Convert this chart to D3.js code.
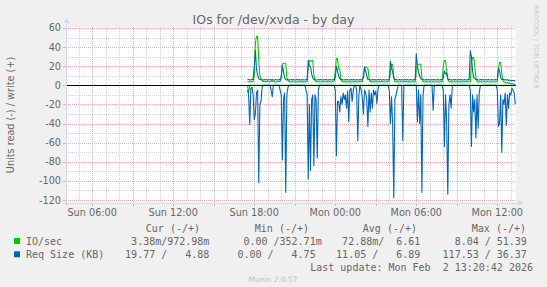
<!DOCTYPE html>
<html><head><meta charset="utf-8">
<script src="https://cdn.jsdelivr.net/npm/d3@7"></script>
<style>body{margin:0;background:#f0f0f0}svg{display:block}</style>
</head><body>
<script>
// ---- data (5-minute samples starting Sun 17:30, one row per hour) ----
const firstSample = new Date(2026, 1, 1, 17, 30);
const sampleMinutes = 5;

const ioWrite = [
  4,4,3.5,3.5,4,4,10,44,51.39,51,26,10,
  7,5,4,4,3.5,4,4,4,3.5,4,5,4,
  4,3.5,3.5,4,4,4,10,22,23,23,23,8,
  5,4,3.5,3.5,4,3.5,3.5,4,3.5,3.5,4,4,
  3.5,4,3.5,3.5,4,4,20,26,26,25,26,10,
  5,4,3.5,4,3.5,3.5,3.5,4,4,3.5,3.5,4,
  3.5,4,3.5,3.5,4,4,15,28,28,17,17,6,
  4,3.5,4,3.5,4,3.5,3.5,4,3.5,3.5,4,3.5,
  4,3.5,3.5,4,3.5,4,4,10,19,19,19,18,
  8,4,3.5,4,3.5,3.5,4,3.5,3.5,4,3.5,4,
  3.5,4,3.5,3.5,4,3.5,4,15,22,22,8,4,
  3.5,4,3.5,3.5,4,3.5,3.5,4,3.5,4,3.5,3.5,
  4,3.5,3.5,4,3.5,3.5,15,22,22,22,22,8,
  4,3.5,3.5,4,3.5,3.5,4,3.5,3.5,4,3.5,3.5,
  3.5,4,3.5,3.5,4,3.5,20,26,26,15,6,4,
  3.5,4,3.5,3.5,4,3.5,3.5,4,3.5,3.5,4,3.5,
  3.5,4,3.5,4,3.5,3.5,4,25,29,29,20,8,
  4,3.5,3.5,4,3.5,3.5,4,3.5,3.5,4,3.5,3.5,
  3.5,4,3.5,3.5,4,3.5,4,18,24,24,12,5,
  3.5,3,2.5,3,2,2.5,1.5,2,1.5,1.2,0.97
];
const ioRead = [
  0,8.04,0,0,0,0,0,0,0,0,0,0,
  0,0,0,0,0,0,0,0,0,0,0,0,
  0,0,0,0,0,0,0,0,0,0,0,0,
  0,0,0,0,0,0,0,0,0,0,0,0,
  0,0,0,0,0,0,0,0,0,0,0,0,
  0,0,0,0,0,0,0,0,0,0,0,0,
  0,0,0,0,0,0,0,0,0,0,0,0,
  0,0,0,0,0,0,0,0,0,0,0,0,
  0,0,0,0,0,0,0,0,0,0,0,0,
  0,0,0,0,0,0,0,0,0,0,0,0,
  0,0,0,0,0,0,0,0,0,0,0,0,
  0,0,0,0,0,0,0,0,0,0,0,0,
  0,0,0,0,0,0,0,0,0,0,0,0,
  0,0,0,0,0,0,0,0,0,0,0,0,
  0,0,0,0,0,0,0,0,0,0,0,0,
  0,0,0,0,0,0,0,0,0,0,0,0,
  0,0,0,0,0,0,0,0,0,0,0,0,
  0,0,0,0,0,0,0,0,0,0,0,0,
  0,0,0,0,0,0,0,0,0,0,0,0,
  0,0,0,0,0,0,0,0,0,0,0.00338
];
const sizeWrite = [
  6,6,5.5,5.5,6,6,20,36.37,17,11,7,6,
  6,5.5,5.5,6,5.5,6,5.5,5.5,6,5.5,6,5.5,
  5.5,6,5.5,5.5,6,5.5,8,21,14,8,6,5.5,
  6,5.5,5.5,6,5.5,6,5.5,5.5,6,5.5,6,5.5,
  5.5,6,5.5,5.5,6,5.5,26,20,20,12,8,6,
  6,5.5,5.5,6,5.5,6,5.5,5.5,6,5.5,6,5.5,
  5.5,6,5.5,5.5,6,5.5,8,20,15,10,7,6,
  6,5.5,5.5,6,5.5,6,5.5,5.5,6,5.5,6,5.5,
  5.5,6,5.5,5.5,6,5.5,6,8,19,15,10,6,
  6,5.5,5.5,6,5.5,6,5.5,5.5,6,5.5,6,5.5,
  5.5,6,5.5,5.5,6,5.5,6,25,18,14,8,6,
  6,5.5,5.5,6,5.5,6,5.5,5.5,6,5.5,6,5.5,
  5.5,6,5.5,5.5,6,5.5,33,20,14,10,7,6,
  6,5.5,5.5,6,5.5,6,5.5,5.5,6,5.5,6,5.5,
  5.5,6,5.5,5.5,6,5.5,8,15,12,13,7,6,
  6,5.5,5.5,6,5.5,6,5.5,5.5,6,5.5,6,5.5,
  5.5,6,5.5,5.5,6,5.5,36,30,15,8,7,6,
  6,5.5,5.5,6,5.5,6,5.5,5.5,6,5.5,6,5.5,
  5.5,6,5.5,5.5,6,5.5,6,18,15,8,6,6,
  6,5.5,5.5,6,5,5.5,5,5,5,4.9,4.88
];
const sizeRead = [
  5,10,41,3,2,10,36,30,8,5,102,20,
  17,2,0,0,0,0,0,0,0,5,12,0,
  0,0,0,0,0,5,10,78,15,8,112,10,
  2,0,0,0,0,0,0,0,0,0,0,0,
  0,0,0,0,5,10,98,20,89,15,10,84,
  10,15,76,5,0,0,0,0,0,0,0,0,
  0,0,0,0,0,0,5,74,17,17,28,12,
  20,8,15,10,24,6,38,5,3,17,5,0,
  0,5,58,10,0,5,12,30,5,8,15,43,
  5,28,8,24,5,10,6,19,4,0,0,0,
  0,0,0,0,0,0,5,40,12,41,117.53,15,
  10,5,0,0,0,0,58,0,0,0,0,0,
  0,0,0,0,0,0,0,38,5,40,10,112,
  10,0,0,0,0,0,0,0,0,26,0,0,
  0,0,0,0,0,0,5,64,10,38,114,20,
  10,24,0,0,0,0,0,0,0,0,0,0,
  0,0,0,0,0,0,5,64,10,28,15,55,
  10,45,7,0,0,0,0,0,0,0,0,0,
  0,0,0,0,0,0,5,43,40,10,70,15,
  20,8,42,10,24,8,10,3,5,8,19.77
];

const yMajorTicks = [60,40,20,0,-20,-40,-60,-80,-100,-120];
const legendHeader = ["Cur (-/+)","Min (-/+)","Avg (-/+)","Max (-/+)"];
const legendRows = [
  {name:"IO/sec", color:"#00cc00", vals:["3.38m/972.98m","0.00 /352.71m","72.88m/  6.61","8.04 / 51.39"]},
  {name:"Req Size (KB)", color:"#0066b3", vals:["19.77 /   4.88","0.00 /   4.75 ","11.05 /   6.89","117.53 / 36.37"]}
];
const titleText = "IOs for /dev/xvda - by day";
const yLabel = "Units read (-) / write (+)";
const lastUpdate = "Last update: Mon Feb  2 13:20:42 2026";

// ---- layout ----
const W = 547, H = 287;
const L = 66, R = 516, T = 27, B = 202.5;
const AXIS = "#cfd6f8", FONT = "#666666";

const svg = d3.select("body").append("svg").attr("width", W).attr("height", H)
  .style("font-family", "'DejaVu Sans', sans-serif");
svg.append("rect").attr("width", W).attr("height", H).attr("fill", "#f0f0f0");
svg.append("rect").attr("x", L).attr("y", T).attr("width", R - L).attr("height", B - T).attr("fill", "#ffffff");

const x = d3.scaleTime()
  .domain([new Date(2026,1,1,4,3,36), new Date(2026,1,2,13,23,6)])
  .range([L, R]);
const y = d3.scaleLinear().domain([-122.6, 61.0]).range([B, T]);

const tOf = i => new Date(firstSample.getTime() + i * sampleMinutes * 60000);

// grid
const g = svg.append("g").attr("shape-rendering", "crispEdges");
const minorX = x.ticks(d3.timeHour.every(1));
const majorX = x.ticks(d3.timeHour.every(3));
const minorY = d3.range(-120, 61, 10);
const snap = v => Math.round(v) + 0.5;

g.selectAll(".mx").data(minorX).join("line")
  .attr("x1", d => snap(x(d))).attr("x2", d => snap(x(d)))
  .attr("y1", T).attr("y2", B)
  .attr("stroke", "#d4d4d4").attr("stroke-dasharray", "1,1");
g.selectAll(".my").data(minorY).join("line")
  .attr("x1", L).attr("x2", R)
  .attr("y1", d => snap(y(d))).attr("y2", d => snap(y(d)))
  .attr("stroke", "#d4d4d4").attr("stroke-dasharray", "1,1");
g.selectAll(".Mx").data(majorX).join("line")
  .attr("x1", d => snap(x(d))).attr("x2", d => snap(x(d)))
  .attr("y1", T).attr("y2", B)
  .attr("stroke", "#f2aaaa").attr("stroke-dasharray", "1,1");
g.selectAll(".My").data(yMajorTicks).join("line")
  .attr("x1", L).attr("x2", R)
  .attr("y1", d => snap(y(d))).attr("y2", d => snap(y(d)))
  .attr("stroke", "#f2aaaa").attr("stroke-dasharray", "1,1");
// tick marks outside
g.selectAll(".tx").data(majorX).join("line")
  .attr("x1", d => snap(x(d))).attr("x2", d => snap(x(d)))
  .attr("y1", B).attr("y2", B + 3).attr("stroke", "#f2aaaa");
g.selectAll(".ty").data(yMajorTicks).join("line")
  .attr("x1", L - 3).attr("x2", L)
  .attr("y1", d => snap(y(d))).attr("y2", d => snap(y(d))).attr("stroke", "#f2aaaa");

// lines
const line = d3.line().x(d => x(d.t)).y(d => y(d.v));
const mk = (arr, sign) => arr.map((v, i) => ({t: tOf(i), v: sign * v}));
const series = [
  {data: mk(ioRead, -1), color: "#00cc00"},
  {data: mk(ioWrite, 1), color: "#00cc00"},
  {data: mk(sizeRead, -1), color: "#0066b3"},
  {data: mk(sizeWrite, 1), color: "#0066b3"}
];
svg.append("g").selectAll("path").data(series).join("path")
  .attr("d", d => line(d.data)).attr("fill", "none")
  .attr("stroke", d => d.color).attr("stroke-width", 1.1)
  .attr("stroke-linejoin", "round");

// zero line
svg.append("line").attr("x1", L).attr("x2", R)
  .attr("y1", Math.round(y(0)) + 0.5).attr("y2", Math.round(y(0)) + 0.5)
  .attr("stroke", "#000").attr("stroke-width", 1).attr("shape-rendering", "crispEdges");

// axes
svg.append("line").attr("x1", L + 0.5).attr("x2", L + 0.5).attr("y1", B + 3).attr("y2", 22)
  .attr("stroke", AXIS).attr("shape-rendering", "crispEdges");
svg.append("line").attr("x1", L - 3).attr("x2", 519).attr("y1", B + 0.5).attr("y2", B + 0.5)
  .attr("stroke", AXIS).attr("shape-rendering", "crispEdges");
svg.append("path").attr("d", `M${L - 2.5},${23} L${L + 0.5},${18} L${L + 3.5},${23} Z`).attr("fill", AXIS);
svg.append("path").attr("d", `M${518},${B - 2.5} L${523},${B + 0.5} L${518},${B + 3.5} Z`).attr("fill", AXIS);

// tick labels
svg.append("g").selectAll("text").data(yMajorTicks).join("text")
  .attr("x", 61).attr("y", d => y(d) + 3.5).attr("text-anchor", "end")
  .attr("font-size", 9.7).attr("fill", FONT).text(d => d);
const labelX = x.ticks(d3.timeHour.every(6));
const fmt = d3.timeFormat("%a %H:%M");
svg.append("g").selectAll("text").data(labelX).join("text")
  .attr("x", d => x(d)).attr("y", 215.5).attr("text-anchor", "middle")
  .attr("font-size", 9.7).attr("fill", FONT).text(d => fmt(d));

// title & labels
svg.append("text").attr("x", 273.5).attr("y", 24).attr("text-anchor", "middle")
  .attr("font-size", 12.5).attr("fill", FONT).text(titleText);
svg.append("text").attr("transform", "translate(14,115) rotate(-90)").attr("text-anchor", "middle")
  .attr("font-size", 9.7).attr("fill", FONT).text(yLabel);
svg.append("text").attr("transform", "translate(534,5) rotate(90)").attr("text-anchor", "start")
  .attr("font-size", 6.5).attr("fill", "#c8c8c8").text("RRDTOOL / TOBI OETIKER");

// legend
const mono = "'DejaVu Sans Mono', monospace";
const hdrEnds = [200, 309, 417, 526];
svg.append("g").selectAll("text").data(legendHeader).join("text")
  .attr("x", (d, i) => hdrEnds[i]).attr("y", 232).attr("text-anchor", "end")
  .attr("font-family", mono).attr("font-size", 10).attr("fill", FONT)
  .style("white-space", "pre").text(d => d);
const colEnds = [209.4, 321.7, 420.4, 526.9];
legendRows.forEach((r, ri) => {
  const yy = 245 + ri * 13.3;
  svg.append("rect").attr("x", 14).attr("y", yy - 7).attr("width", 6).attr("height", 6).attr("fill", r.color);
  svg.append("text").attr("x", 26).attr("y", yy).attr("font-family", mono).attr("font-size", 10)
    .attr("fill", FONT).text(r.name);
  svg.append("g").selectAll("text").data(r.vals).join("text")
    .attr("x", (d, i) => colEnds[i]).attr("y", yy).attr("text-anchor", "end")
    .attr("font-family", mono).attr("font-size", 10).attr("fill", FONT)
    .attr("xml:space", "preserve").style("white-space", "pre").text(d => d);
});
svg.append("text").attr("x", 533).attr("y", 270.5).attr("text-anchor", "end")
  .attr("font-family", mono).attr("font-size", 10).attr("fill", FONT)
  .style("white-space", "pre").text(lastUpdate);
svg.append("text").attr("x", 273).attr("y", 282).attr("text-anchor", "middle")
  .attr("font-size", 7.5).attr("fill", "#c0c0c0").text("Munin 2.0.57");
</script>
</body></html>
